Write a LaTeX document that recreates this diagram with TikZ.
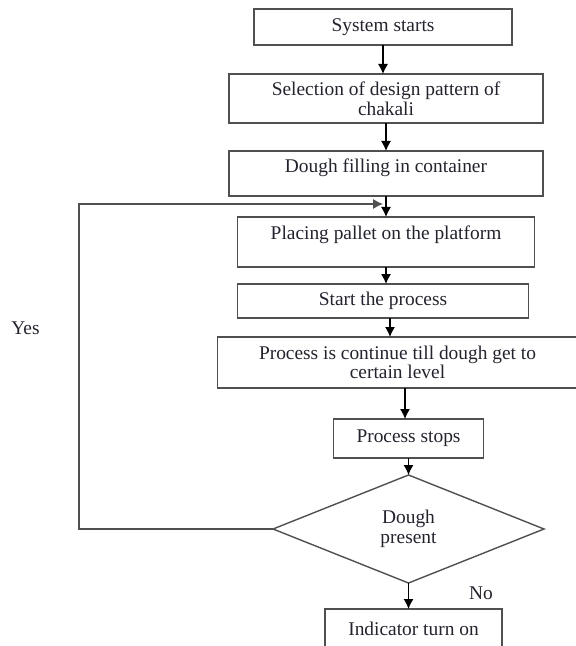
\documentclass[tikz,border=0pt]{standalone}
\usepackage{fontspec}
\setmainfont{Liberation Serif}
\usetikzlibrary{arrows.meta,positioning,shapes.geometric}
\definecolor{ink}{HTML}{23232E}
\definecolor{frame}{HTML}{505050}
\tikzset{
    %Define standard arrow tip
    >={Latex[length=5pt,width=5pt]},
    %Define style for boxes
    stage/.style={
           rectangle,
           draw=frame, line width=0.7pt,
           minimum height=18pt,
           inner sep=1pt,
           outer sep=0pt,
           align=center,
           text=ink,
           font=\fontsize{9.7}{9.8}\selectfont},
    % Define style for the decision
    check/.style={
           diamond,
           draw=frame, line width=0.7pt,
           minimum width=135.5pt,
           minimum height=54pt,
           shape aspect=2.5,
           inner sep=1pt,
           outer sep=0pt,
           align=center,
           text=ink,
           font=\fontsize{9.7}{9.8}\selectfont},
    % Define style for the yes/no labels
    tag/.style={
           text=ink,
           font=\fontsize{9.7}{9.8}\selectfont},
    % Define arrow style
    flowarrow/.style={
           ->,
           line width=0.6pt}
}
\begin{document}
\begin{tikzpicture}[node distance=14pt]
\useasboundingbox (0,0) rectangle (287.5pt,-323pt);
\node[stage, minimum width=129pt] (start) at (191.5pt,-13.5pt) {System starts};
\node[stage, minimum width=157pt, minimum height=24.5pt, below=14.5pt of start, xshift=1.5pt] (select) {Selection of design pattern of\\ chakali};
\node[stage, minimum width=157pt, minimum height=22.5pt, text depth=7.5pt, below=14pt of select] (filling) {Dough filling in container};
\node[stage, minimum width=148.5pt, minimum height=25pt, text depth=9pt, below=10.5pt of filling] (pallet) {Placing pallet on the platform};
\node[stage, minimum width=145.5pt, minimum height=17pt, below=8.5pt of pallet, xshift=-1.5pt] (process) {Start the process};
\node[stage, minimum width=180pt, minimum height=25.5pt, below=9.5pt of process, xshift=7.25pt] (level) {Process is continue till dough get to\\ certain level};
\node[stage, minimum width=75pt, minimum height=19.5pt, below=15.5pt of level, xshift=5.5pt] (stops) {Process stops};
\node[check, below=8.5pt of stops] (dough) {Dough\\ present};
\node[stage, minimum width=88.5pt, minimum height=20pt, below=13pt of dough, xshift=2.5pt] (indicator) {Indicator turn on};

\node[tag] (yes) at (12.75pt,-164pt) {Yes};
\node[tag] (no) at (240.5pt,-296.5pt) {No};

% point where the loop joins the main line
\coordinate (merge) at ([yshift=-4pt]filling.south);

\draw[flowarrow] (start.south) -- (start.south |- select.north);
\draw[flowarrow] (select.south) -- (select.south |- filling.north);
\draw[flowarrow] (filling.south) -- (filling.south |- pallet.north);
\draw[flowarrow] (pallet.south) -- (pallet.south |- process.north);
\draw[flowarrow] ([xshift=3.5pt]process.south) -- ([xshift=3.5pt]process.south |- level.north);
\draw[flowarrow] ([xshift=3.75pt]level.south) -- ([xshift=3.75pt]level.south |- stops.north);
\draw[flowarrow] (stops.south) -- (stops.south |- dough.north);
\draw[flowarrow] (dough.south) -- (dough.south |- indicator.north);
\draw[flowarrow, draw=frame] (dough.west) -- ++(-97pt,0) |- ([xshift=-1.5pt]merge);

\end{tikzpicture}
\end{document}
